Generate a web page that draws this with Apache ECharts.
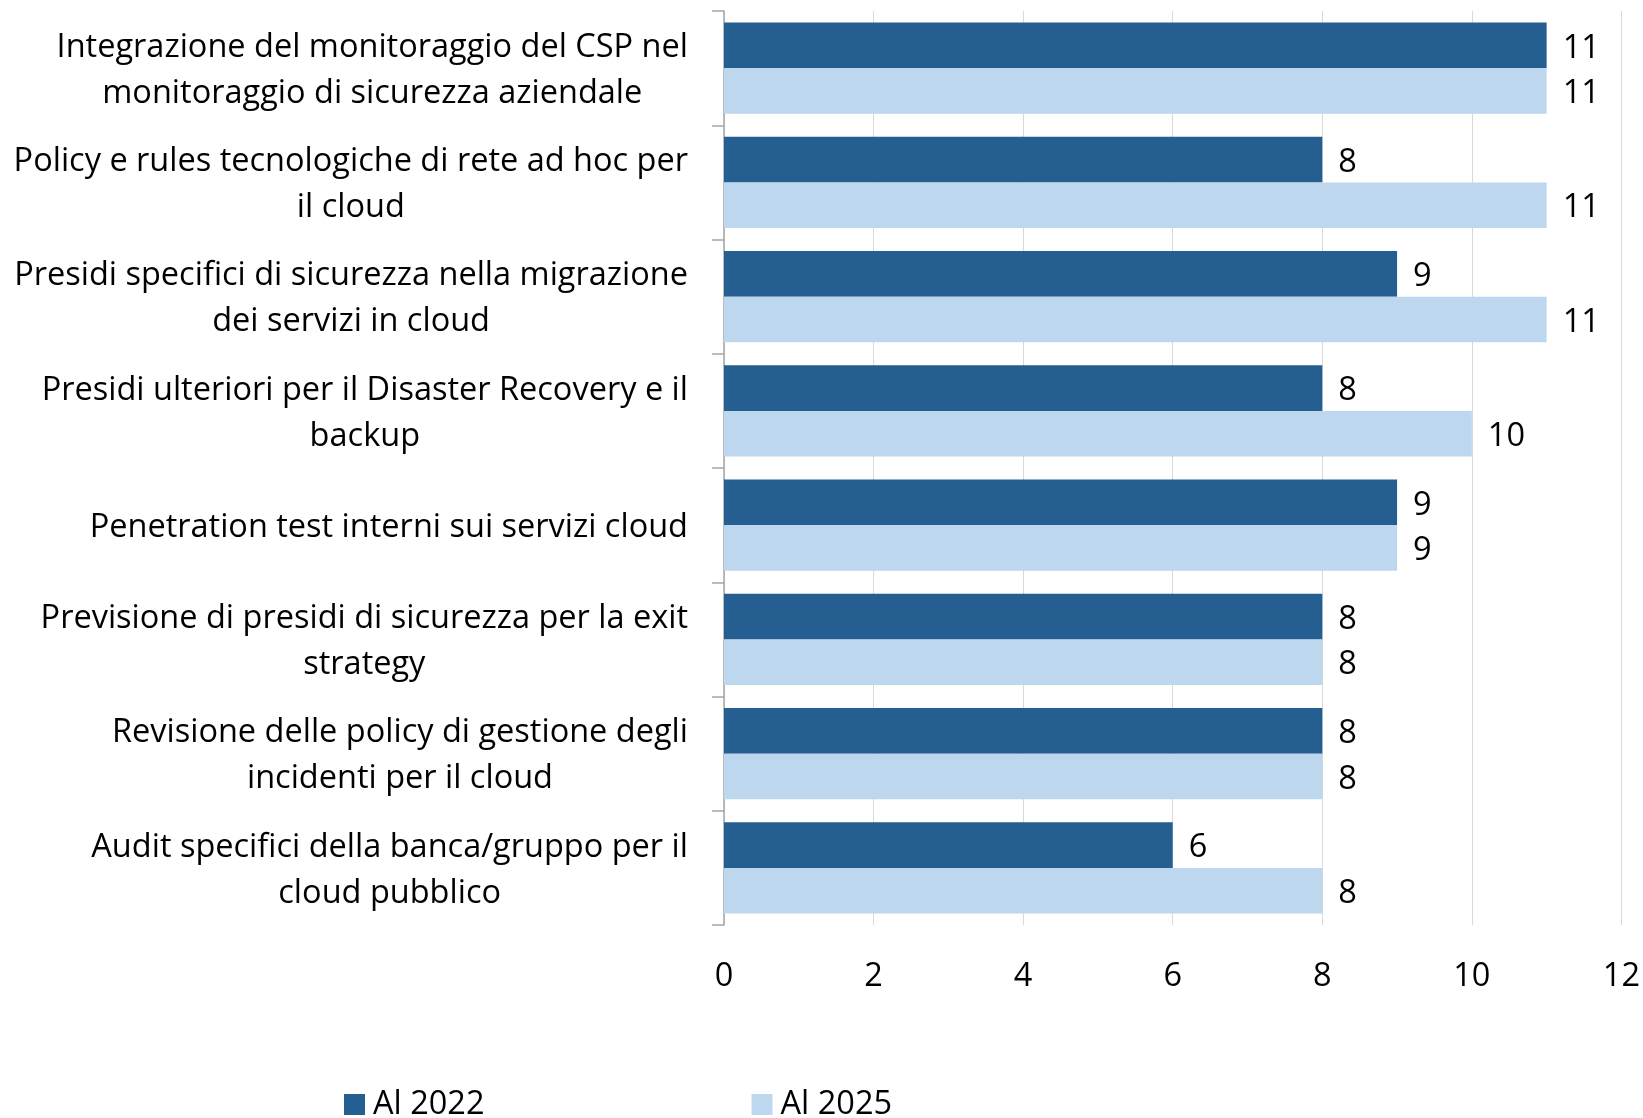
<!DOCTYPE html>
<html>
<head>
<meta charset="utf-8">
<script src="https://cdn.jsdelivr.net/npm/echarts@6/dist/echarts.min.js"></script>
<style>
  html, body { margin: 0; padding: 0; background: #fff; }
  #chart { width: 1643px; height: 1118px; }
</style>
</head>
<body>
<div id="chart"></div>
<script>
const categories = [
  "Integrazione del monitoraggio del CSP nel\nmonitoraggio di sicurezza aziendale",
  "Policy e rules tecnologiche di rete ad hoc per\nil cloud",
  "Presidi specifici di sicurezza nella migrazione\ndei servizi in cloud",
  "Presidi ulteriori per il Disaster Recovery e il\nbackup",
  "Penetration test interni sui servizi cloud",
  "Previsione di presidi di sicurezza per la exit\nstrategy",
  "Revisione delle policy di gestione degli\nincidenti per il cloud",
  "Audit specifici della banca/gruppo per il\ncloud pubblico"
]
const values2022 = [11, 8, 9, 8, 9, 8, 8, 6]
const values2025 = [11, 11, 11, 10, 9, 8, 8, 8]
const seriesNames = ["Al 2022", "Al 2025"]

const chart = echarts.init(document.getElementById("chart"))

const font = "Open Sans"
const fs = 32.5
const labelStyle = {
  show: true,
  position: "right",
  distance: 16,
  offset: [0, 3],
  color: "#000",
  fontFamily: font,
  fontSize: fs
}

const option = {
  backgroundColor: "#fff",
  animation: false,
  grid: {
    left: 724,
    right: 21,
    top: 11,
    bottom: 193
  },
  legend: {
    data: seriesNames,
    left: 339,
    top: 1083,
    itemWidth: 21,
    itemHeight: 21,
    itemGap: 267,
    icon: "rect",
    textStyle: {
      color: "#000",
      fontFamily: font,
      fontSize: fs,
      padding: [0, 0, 0, 3]
    }
  },
  xAxis: {
    type: "value",
    min: 0,
    max: 12,
    interval: 2,
    axisLine: { show: false },
    axisTick: { show: false },
    axisLabel: {
      color: "#000",
      fontFamily: font,
      fontSize: fs,
      margin: 35
    },
    splitLine: {
      lineStyle: { color: "#d9d9d9", width: 1 }
    }
  },
  yAxis: {
    type: "category",
    data: categories,
    inverse: true,
    axisLine: {
      lineStyle: { color: "#a6a6a6", width: 1.5 }
    },
    axisTick: {
      show: true,
      length: 12,
      lineStyle: { color: "#a6a6a6", width: 1.5 }
    },
    axisLabel: {
      margin: 36,
      align: "right",
      padding: [5, 0, 0, 0],
      formatter: (value) =>
        value.split("\n").map((l) => "{c|" + l + "}").join("\n"),
      rich: {
        c: {
          align: "center",
          color: "#000",
          fontFamily: font,
          fontSize: fs,
          lineHeight: 46
        }
      }
    }
  },
  series: [
    {
      name: seriesNames[0],
      type: "bar",
      data: values2022,
      barGap: "0%",
      barCategoryGap: "20%",
      itemStyle: { color: "#255e91" },
      label: labelStyle
    },
    {
      name: seriesNames[1],
      type: "bar",
      data: values2025,
      itemStyle: { color: "#bdd7ee" },
      label: labelStyle
    }
  ]
}

chart.setOption(option)
</script>
</body>
</html>
